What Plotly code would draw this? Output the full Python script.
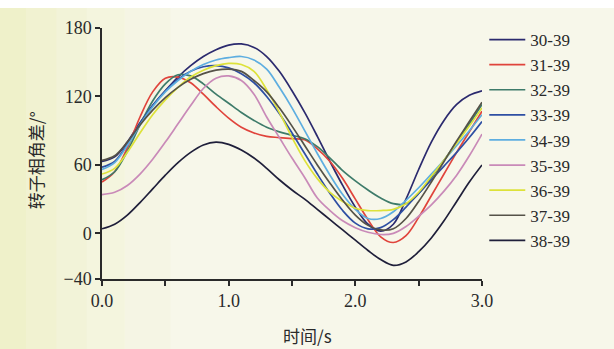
import plotly.graph_objects as go

time_s = [round(i * 0.1, 1) for i in range(31)]

series_names = ["30-39", "31-39", "32-39", "33-39", "34-39", "35-39", "36-39", "37-39", "38-39"]

v_30_39 = [63, 67, 80, 97, 112, 125, 137, 147, 155, 161, 165, 166, 163, 155, 142, 125, 106, 85, 63, 42,
           23, 8, 2, 8, 30, 56, 80, 99, 113, 121, 125]
v_31_39 = [45, 54, 75, 102, 124, 136, 137, 132, 122, 111, 101, 93, 88, 85, 84, 83, 82, 74, 63, 48,
           30, 12, -3, -8, -2, 14, 33, 52, 71, 89, 107]
v_32_39 = [47, 54, 72, 95, 116, 131, 139, 138, 131, 122, 114, 106, 99, 93, 89, 86, 83, 76, 66, 55,
           46, 38, 31, 26, 26, 35, 49, 64, 80, 96, 113]
v_33_39 = [58, 63, 78, 96, 112, 125, 135, 142, 146, 147, 145, 140, 132, 120, 105, 88, 70, 52, 35, 20,
           9, 4, 5, 12, 23, 35, 47, 59, 71, 84, 98]
v_34_39 = [56, 62, 77, 95, 111, 124, 134, 142, 148, 152, 154, 155, 152, 144, 128, 110, 90, 70, 51, 34,
           21, 13, 13, 19, 29, 40, 52, 64, 77, 90, 104]
v_35_39 = [34, 36, 42, 52, 65, 80, 96, 112, 127, 136, 138, 134, 122, 102, 84, 66, 49, 31, 20, 11,
           5, 1, -1, 0, 6, 15, 25, 37, 51, 68, 87]
v_36_39 = [52, 57, 71, 88, 104, 117, 128, 137, 143, 147, 149, 148, 142, 126, 106, 84, 64, 48, 36, 28,
           22, 20, 20, 21, 26, 36, 50, 64, 79, 94, 110]
v_37_39 = [64, 68, 80, 95, 108, 119, 128, 135, 140, 143, 144, 142, 134, 124, 110, 94, 77, 60, 44, 29,
           16, 7, 3, 4, 13, 28, 45, 63, 81, 98, 115]
v_38_39 = [4, 8, 16, 27, 39, 51, 62, 71, 77.5, 80, 78, 73, 66, 57, 47, 38, 30, 21, 12, 3,
           -6, -15, -23, -28, -25, -16, -4, 11, 28, 45, 60]

series_values = [v_30_39, v_31_39, v_32_39, v_33_39, v_34_39, v_35_39, v_36_39, v_37_39, v_38_39]
series_colors = ["#2b2a6e", "#e0443c", "#3e7b6a", "#2e4fa3", "#5eaee0", "#c98ab8", "#dde23a", "#555248", "#1f1f3a"]

x_tickvals = [0, 0.5, 1.0, 1.5, 2.0, 2.5, 3.0]
x_ticktext = ["0.0", "", "1.0", "", "2.0", "", "3.0"]
y_tickvals = [-40, 0, 60, 120, 180]
y_ticktext = ["\u221240", "0", "60", "120", "180"]

fig = go.Figure()
for name, vals, col in zip(series_names, series_values, series_colors):
    fig.add_trace(go.Scatter(
        x=time_s, y=vals, name=name, mode="lines",
        line=dict(color=col, width=1.7, shape="spline", smoothing=1.0),
    ))

axis_color = "#2a2a2a"
serif = "Liberation Serif"
cjk = "Noto Sans CJK SC"

# faint paper tint (scanned look)
shapes = []
for x0, x1, op in [(-0.27, -0.20, 0.55), (-0.20, -0.12, 0.42), (-0.12, -0.04, 0.3),
                   (-0.04, 0.06, 0.18), (0.06, 0.18, 0.09)]:
    shapes.append(dict(type="rect", xref="paper", yref="paper", x0=x0, x1=x1, y0=-0.3, y1=1.08,
                       fillcolor="#e9ecae", opacity=op, line=dict(width=0), layer="below"))
shapes.append(dict(type="rect", xref="paper", yref="paper", x0=-0.3, x1=1.4, y0=1.08, y1=1.2,
                   fillcolor="#ffffff", line=dict(width=0), layer="below"))

fig.update_layout(
    width=614, height=349,
    margin=dict(l=102, r=132, t=28, b=70),
    paper_bgcolor="#f7f7ea",
    plot_bgcolor="rgba(0,0,0,0)",
    shapes=shapes,
    showlegend=True,
    font=dict(family=serif, color=axis_color),
    legend=dict(
        x=1.006, y=1.024, xanchor="left", yanchor="top",
        font=dict(family=serif, size=17, color=axis_color),
        bgcolor="rgba(0,0,0,0)", tracegroupgap=0, itemwidth=36,
        maxheight=320,
    ),
    xaxis=dict(
        range=[0, 3], tickvals=x_tickvals, ticktext=x_ticktext,
        showline=True, linecolor=axis_color, linewidth=1.5,
        ticks="outside", ticklen=5, tickwidth=1.5, tickcolor=axis_color,
        showgrid=False, zeroline=False,
        tickfont=dict(family=serif, size=18, color=axis_color),
    ),
    yaxis=dict(
        range=[-40, 180], tickvals=y_tickvals, ticktext=y_ticktext,
        showline=True, linecolor=axis_color, linewidth=1.5,
        ticks="outside", ticklen=5, tickwidth=1.5, tickcolor=axis_color,
        showgrid=False, zeroline=False,
        tickfont=dict(family=serif, size=18, color=axis_color),
    ),
    annotations=[
        dict(text="时间/s", xref="paper", yref="paper", x=0.54, y=-0.225, yanchor="middle",
             showarrow=False, font=dict(family=cjk, size=17, color=axis_color)),
        dict(text="转子相角差/°", xref="paper", yref="paper", x=-0.176, y=0.474,
             xanchor="center", yanchor="middle",
             textangle=-90, showarrow=False, font=dict(family=cjk, size=17, color=axis_color)),
    ],
)

fig.write_html("out.html", config={"displayModeBar": False},
               post_script="document.body.style.margin='0';document.body.style.padding='0';")
